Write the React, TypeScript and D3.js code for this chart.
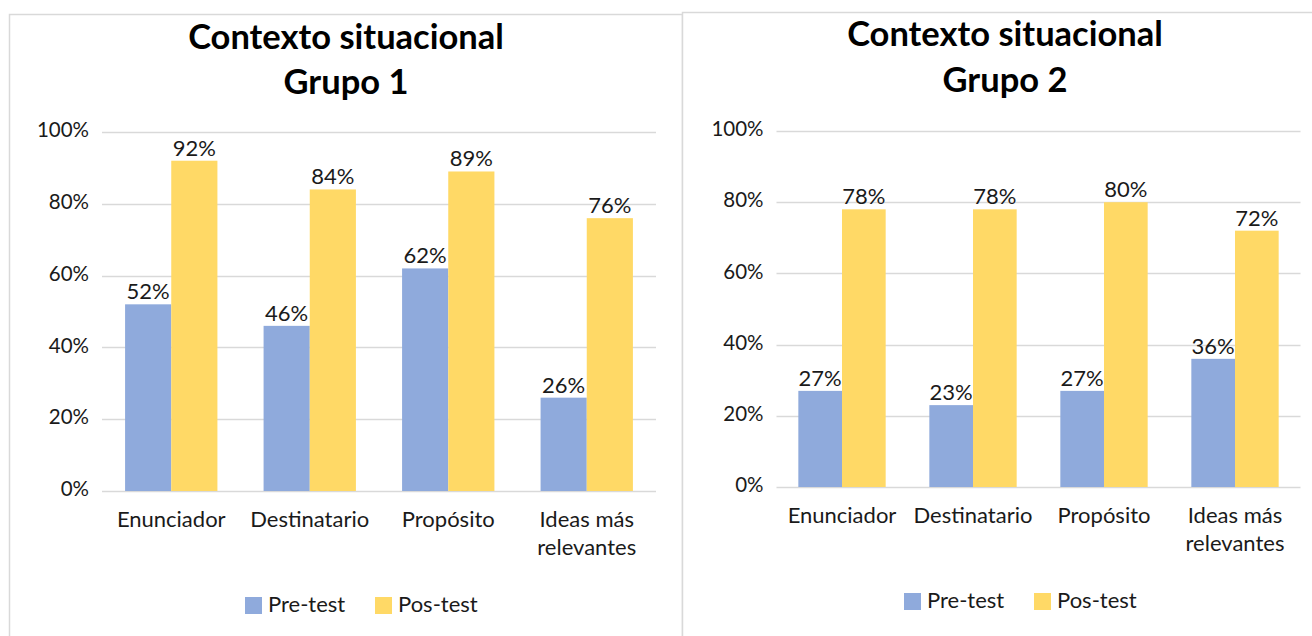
import React from "react";
import * as d3 from "d3";

const categories = ["Enunciador", "Destinatario", "Propósito", "Ideas más\nrelevantes"];
const seriesNames = ["Pre-test", "Pos-test"];
const seriesColors = ["#8FAADC", "#FFD966"];
const yTicks = [0, 0.2, 0.4, 0.6, 0.8, 1.0];

const group1Pre = [0.52, 0.46, 0.62, 0.26];
const group1Post = [0.92, 0.84, 0.89, 0.76];
const group2Pre = [0.27, 0.23, 0.27, 0.36];
const group2Post = [0.78, 0.78, 0.8, 0.72];

const titles = ["Contexto situacional", "Grupo 1", "Grupo 2"];

const FONT = "Lato, 'Open Sans', sans-serif";
const TEXT = "#1a1a1a";

type PanelProps = {
  box: { x: number; y: number; w: number; h: number };
  plot: { x0: number; x1: number; y0: number; y1: number };
  titleX: number;
  titleY: [number, number];
  subtitle: string;
  catY: number;
  legendY: number;
  legendX: number;
  pre: number[];
  post: number[];
};

function Panel(p: PanelProps) {
  const x = d3.scaleBand<string>().domain(categories).range([p.plot.x0, p.plot.x1]).padding(0);
  const xs = d3
    .scaleBand<string>()
    .domain(seriesNames)
    .range([0, x.bandwidth()])
    .paddingInner(0)
    .paddingOuter(0.5);
  const y = d3.scaleLinear().domain([0, 1]).range([p.plot.y0, p.plot.y1]);
  const fmt = d3.format(".0%");
  const values = [p.pre, p.post];
  return (
    <g>
      <rect x={p.box.x + 0.5} y={p.box.y + 0.5} width={p.box.w} height={p.box.h} fill="#fff" stroke="#d9d9d9" strokeWidth={1.5} />
      <text x={p.titleX} y={p.titleY[0]} textAnchor="middle" fontFamily={FONT} fontWeight="bold" fontSize={34.5} fill="#000" dominantBaseline="middle">
        {titles[0]}
      </text>
      <text x={p.titleX} y={p.titleY[1]} textAnchor="middle" fontFamily={FONT} fontWeight="bold" fontSize={34.5} fill="#000" dominantBaseline="middle">
        {p.subtitle}
      </text>
      {yTicks.map((t) => (
        <g key={t}>
          <line x1={p.plot.x0} x2={p.plot.x1} y1={Math.round(y(t)) + 0.5} y2={Math.round(y(t)) + 0.5} stroke="#d9d9d9" strokeWidth={1.5} />
          <text x={p.plot.x0 - 13} y={y(t)} textAnchor="end" dominantBaseline="middle" fontFamily={FONT} fontSize={20.5} fill={TEXT}>
            {fmt(t)}
          </text>
        </g>
      ))}
      {categories.map((c, i) =>
        seriesNames.map((s, si) => {
          const v = values[si][i];
          const bx = (x(c) as number) + (xs(s) as number);
          return (
            <g key={c + s}>
              <rect x={bx} y={y(v)} width={xs.bandwidth()} height={y(0) - y(v)} fill={seriesColors[si]} />
              <text x={bx + xs.bandwidth() / 2} y={y(v) - 5} textAnchor="middle" fontFamily={FONT} fontSize={22} fill={TEXT}>
                {fmt(v)}
              </text>
            </g>
          );
        })
      )}
      {categories.map((c) => (
        <text key={c} x={(x(c) as number) + x.bandwidth() / 2} y={p.catY} textAnchor="middle" dominantBaseline="middle" fontFamily={FONT} fontSize={22} fill={TEXT}>
          {c.split("\n").map((line, li) => (
            <tspan key={li} x={(x(c) as number) + x.bandwidth() / 2} dy={li === 0 ? 0 : 28}>
              {line}
            </tspan>
          ))}
        </text>
      ))}
      {seriesNames.map((s, si) => {
        const lx = p.legendX + si * 130;
        return (
          <g key={s}>
            <rect x={lx} y={p.legendY - 8} width={17} height={17} fill={seriesColors[si]} />
            <text x={lx + 23} y={p.legendY + 1} dominantBaseline="middle" fontFamily={FONT} fontSize={22} fill={TEXT}>
              {s}
            </text>
          </g>
        );
      })}
    </g>
  );
}

export default function App() {
  return (
    <svg width={1312} height={636} style={{ position: "absolute", left: 0, top: 0, background: "#fff" }}>
      <Panel
        box={{ x: 9, y: 14, w: 673, h: 640 }}
        plot={{ x0: 102, x1: 656, y0: 491, y1: 132 }}
        titleX={346}
        titleY={[40, 85]}
        subtitle={titles[1]}
        catY={521}
        legendY={605}
        legendX={245}
        pre={group1Pre}
        post={group1Post}
      />
      <Panel
        box={{ x: 682, y: 12, w: 660, h: 640 }}
        plot={{ x0: 776.5, x1: 1300.5, y0: 487, y1: 131 }}
        titleX={1005}
        titleY={[37, 83]}
        subtitle={titles[2]}
        catY={517}
        legendY={601}
        legendX={904}
        pre={group2Pre}
        post={group2Post}
      />
    </svg>
  );
}
